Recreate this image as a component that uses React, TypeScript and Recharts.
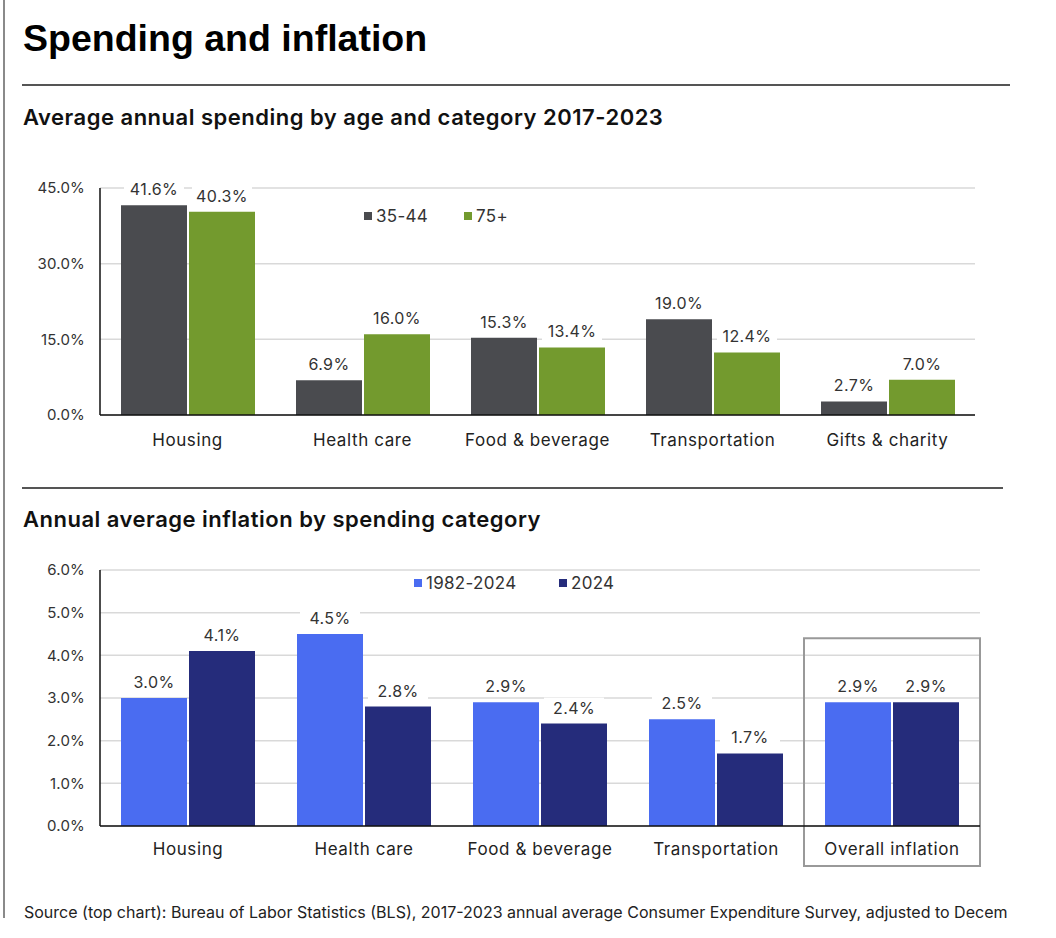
import React from "react";
import {
  BarChart,
  Bar,
  XAxis,
  YAxis,
  CartesianGrid,
  LabelList,
  Legend,
  ReferenceArea,
} from "recharts";

const spendCategories = ["Housing", "Health care", "Food & beverage", "Transportation", "Gifts & charity"];
const spend3544 = [41.6, 6.9, 15.3, 19.0, 2.7];
const spend75 = [40.3, 16.0, 13.4, 12.4, 7.0];
const spendTicks = [0, 15, 30, 45];

const inflCategories = ["Housing", "Health care", "Food & beverage", "Transportation", "Overall inflation"];
const infl19822024 = [3.0, 4.5, 2.9, 2.5, 2.9];
const infl2024 = [4.1, 2.8, 2.4, 1.7, 2.9];
const inflTicks = [0, 1, 2, 3, 4, 5, 6];

const FONT = "Inter, 'Liberation Sans', sans-serif";
const TITLE_FONT = "'Liberation Sans', Arial, sans-serif";

const spendData = spendCategories.map((name, i) => ({ name, a: spend3544[i], b: spend75[i] }));
const inflData = inflCategories.map((name, i) => ({ name, a: infl19822024[i], b: infl2024[i] }));

const pct = (v: number) => `${Number(v).toFixed(1)}%`;

const BarLabel = (props: any) => {
  const { x, y, width, value } = props;
  const cx = Number(x) + Number(width) / 2;
  const cy = Number(y) - 16;
  return (
    <g>
      <rect x={cx - 30} y={cy - 10} width={60} height={20} fill="#fff" />
      <text
        x={cx}
        y={cy}
        textAnchor="middle"
        dominantBaseline="central"
        fontSize={16}
        letterSpacing={0.4}
        fontFamily={FONT}
        fill="#333"
      >
        {pct(value)}
      </text>
    </g>
  );
};

const legendContent = (items: { label: string; color: string }[], itemWidth: number) => () => (
  <div
    style={{
      display: "flex",
      alignItems: "center",
      fontFamily: FONT,
      fontSize: 17,
      letterSpacing: 0.3,
      color: "#333",
    }}
  >
    {items.map((it) => (
      <div key={it.label} style={{ display: "flex", alignItems: "center", width: itemWidth }}>
        <span style={{ display: "inline-block", width: 8, height: 8, background: it.color, marginRight: 4 }} />
        <span>{it.label}</span>
      </div>
    ))}
  </div>
);

const axisTick = { fill: "#333", fontSize: 15, fontFamily: FONT, letterSpacing: 0.2 };
const catTick = { fill: "#222", fontSize: 17, fontFamily: FONT, letterSpacing: 0.6 };

const subtitleStyle: React.CSSProperties = {
  position: "absolute",
  left: 23,
  fontFamily: FONT,
  fontWeight: 600,
  fontSize: 22,
  letterSpacing: 0.5,
  color: "#111",
};

export default function App() {
  return (
    <div style={{ position: "absolute", left: 0, top: 0, width: 1056, height: 938, background: "#fff" }}>
      <div style={{ position: "absolute", left: 3, top: 0, width: 2, height: 918, background: "#8a8a8a" }} />
      <div
        style={{
          position: "absolute",
          left: 23,
          top: 17,
          fontFamily: TITLE_FONT,
          fontWeight: 700,
          fontSize: 37.5,
          color: "#000",
        }}
      >
        Spending and inflation
      </div>
      <div style={{ position: "absolute", left: 22, top: 84, width: 988, height: 2, background: "#555" }} />
      <div style={{ ...subtitleStyle, top: 104 }}>Average annual spending by age and category 2017-2023</div>

      <div style={{ position: "absolute", left: 0, top: 170 }}>
        <BarChart
          width={1000}
          height={290}
          data={spendData}
          margin={{ top: 18, right: 25, bottom: 0, left: 0 }}
          barSize={66}
          barGap={2}
        >
          <CartesianGrid vertical={false} stroke="#d9d9d9" strokeWidth={1.5} />
          <XAxis
            dataKey="name"
            height={45}
            tick={catTick}
            tickLine={false}
            tickSize={0}
            tickMargin={19}
            axisLine={{ stroke: "#111", strokeWidth: 1.5 }}
          />
          <YAxis
            width={100}
            domain={[0, 45]}
            ticks={spendTicks}
            tickFormatter={pct}
            tick={axisTick}
            tickLine={false}
            tickSize={0}
            tickMargin={15}
            axisLine={{ stroke: "#111", strokeWidth: 1.5 }}
          />
          <Legend
            layout="horizontal"
            verticalAlign="middle"
            align="center"
            wrapperStyle={{ top: 36, left: 364, width: "auto" }}
            content={legendContent(
              [
                { label: "35-44", color: "#4a4b4f" },
                { label: "75+", color: "#739a2e" },
              ],
              100
            )}
          />
          <Bar dataKey="a" name="35-44" fill="#4a4b4f" isAnimationActive={false}>
            <LabelList dataKey="a" content={BarLabel} />
          </Bar>
          <Bar dataKey="b" name="75+" fill="#739a2e" isAnimationActive={false}>
            <LabelList dataKey="b" content={BarLabel} />
          </Bar>
        </BarChart>
      </div>

      <div style={{ position: "absolute", left: 22, top: 487, width: 981, height: 2, background: "#555" }} />
      <div style={{ ...subtitleStyle, top: 506 }}>Annual average inflation by spending category</div>

      <div style={{ position: "absolute", left: 0, top: 555 }}>
        <BarChart
          width={1000}
          height={316}
          data={inflData}
          margin={{ top: 15, right: 20, bottom: 0, left: 0 }}
          barSize={66}
          barGap={2}
        >
          <CartesianGrid vertical={false} stroke="#d9d9d9" strokeWidth={1.5} />
          <XAxis
            dataKey="name"
            height={45}
            tick={catTick}
            tickLine={false}
            tickSize={0}
            tickMargin={17}
            axisLine={{ stroke: "#111", strokeWidth: 1.5 }}
          />
          <YAxis
            width={100}
            domain={[0, 6]}
            ticks={inflTicks}
            tickFormatter={pct}
            tick={axisTick}
            tickLine={false}
            tickSize={0}
            tickMargin={15}
            axisLine={{ stroke: "#111", strokeWidth: 1.5 }}
          />
          <Legend
            layout="horizontal"
            verticalAlign="middle"
            align="center"
            wrapperStyle={{ top: 18, left: 414, width: "auto" }}
            content={legendContent(
              [
                { label: "1982-2024", color: "#4a6cf1" },
                { label: "2024", color: "#252c7b" },
              ],
              145
            )}
          />
          <ReferenceArea
            x1="Overall inflation"
            x2="Overall inflation"
            y1={-0.94}
            y2={4.4}
            ifOverflow="visible"
            fill="none"
            stroke="#999"
            strokeWidth={2}
          />
          <Bar dataKey="a" name="1982-2024" fill="#4a6cf1" isAnimationActive={false}>
            <LabelList dataKey="a" content={BarLabel} />
          </Bar>
          <Bar dataKey="b" name="2024" fill="#252c7b" isAnimationActive={false}>
            <LabelList dataKey="b" content={BarLabel} />
          </Bar>
        </BarChart>
      </div>

      <div
        style={{
          position: "absolute",
          left: 24,
          top: 902,
          whiteSpace: "nowrap",
          fontFamily: FONT,
          fontSize: 16,
          color: "#222",
        }}
      >
        Source (top chart): Bureau of Labor Statistics (BLS), 2017-2023 annual average Consumer Expenditure Survey, adjusted to Decem
      </div>
    </div>
  );
}
